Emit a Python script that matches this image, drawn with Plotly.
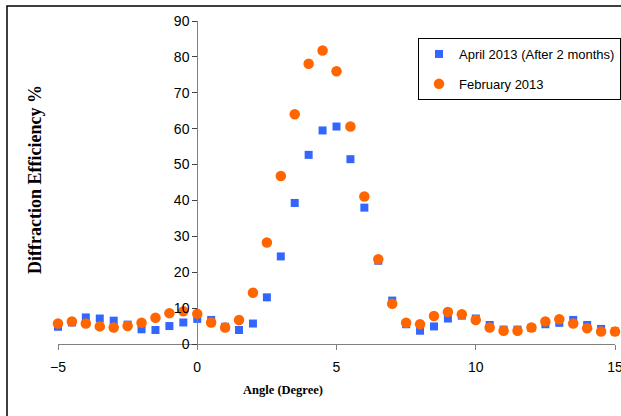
import plotly.graph_objects as go

angle = [-5, -4.5, -4, -3.5, -3, -2.5, -2, -1.5, -1, -0.5, 0, 0.5, 1, 1.5, 2, 2.5, 3, 3.5, 4, 4.5,
         5, 5.5, 6, 6.5, 7, 7.5, 8, 8.5, 9, 9.5, 10, 10.5, 11, 11.5, 12, 12.5, 13, 13.5, 14, 14.5, 15]

april = [4.8, 6.0, 7.4, 7.1, 6.5, 5.4, 4.1, 3.9, 5.0, 6.0, 7.0, 6.7, 4.8, 3.9, 5.7, 13.0, 24.4, 39.3, 52.7, 59.5,
         60.6, 51.5, 38.0, 23.2, 12.1, 5.5, 3.7, 4.9, 7.1, 7.9, 7.1, 5.3, 4.0, 4.0, 4.5, 5.5, 5.9, 6.7, 5.3, 4.2, 3.5]

february = [5.7, 6.3, 5.7, 4.9, 4.6, 5.0, 5.9, 7.3, 8.6, 9.1, 8.4, 6.0, 4.6, 6.7, 14.3, 28.3, 46.8, 64.0, 78.1, 81.8,
            76.0, 60.6, 41.1, 23.6, 11.2, 5.9, 5.5, 7.8, 8.9, 8.3, 6.7, 4.6, 3.7, 3.7, 4.6, 6.3, 6.9, 5.7, 4.4, 3.5, 3.5]

x_ticks = [-5, 0, 5, 10, 15]
y_ticks = [0, 10, 20, 30, 40, 50, 60, 70, 80, 90]

W, H = 621, 416
L, R, T, B = 58, 6, 21, 72
pw, ph = W - L - R, H - T - B

def px(xp):
    return (xp - L) / pw

def py(yp):
    return (H - B - yp) / ph

fig = go.Figure()
fig.add_trace(go.Scatter(
    x=angle, y=april, mode="markers", name="April 2013 (After 2 months)",
    marker=dict(symbol="square", size=8, color="#3366FF"),
    cliponaxis=False, legendgroup="a"))
fig.add_trace(go.Scatter(
    x=angle, y=february, mode="markers", name="February 2013",
    marker=dict(symbol="circle", size=10.5, color="#FF6600"),
    cliponaxis=False, legendgroup="b"))

axis_col = "#808080"
fig.update_layout(
    width=W, height=H,
    margin=dict(l=L, r=R, t=T, b=B, autoexpand=False),
    paper_bgcolor="white", plot_bgcolor="white",
    font=dict(family="Arial, Liberation Sans, sans-serif", size=14, color="black"),
    xaxis=dict(range=[-5, 15], tickvals=x_ticks, showgrid=False, zeroline=False,
               showline=True, linecolor=axis_col, linewidth=1,
               ticks="outside", ticklen=5, tickcolor=axis_col, ticklabelstandoff=5,
               ticklabeloverflow="allow",
               tickfont=dict(size=14), domain=[0, 1], automargin=False),
    yaxis=dict(range=[0, 90], tickvals=y_ticks, showgrid=False, zeroline=False,
               showline=True, linecolor=axis_col, linewidth=1,
               ticks="outside", ticklen=5, tickcolor="#404040",
               ticklabeloverflow="allow",
               tickfont=dict(size=14), anchor="free", position=(0 - (-5)) / 20,
               automargin=False),
    legend=dict(x=px(418), y=py(38), xanchor="left", yanchor="top",
                bordercolor="black", borderwidth=1, bgcolor="white",
                font=dict(size=13), traceorder="grouped", tracegroupgap=10),
    showlegend=True,
)

fig.add_shape(type="rect", xref="paper", yref="paper",
              x0=px(7), x1=px(W + 20), y0=py(H + 20), y1=py(6),
              line=dict(color="black", width=1.5), fillcolor="rgba(0,0,0,0)", layer="below")

fig.add_annotation(text="<b>Angle (Degree)</b>", xref="paper", yref="paper",
                   x=px(283), y=py(390), showarrow=False, xanchor="center", yanchor="middle",
                   font=dict(family="Times New Roman, Liberation Serif, serif", size=12.5, color="black"))
fig.add_annotation(text="<b>Diffraction Efficiency %</b>", xref="paper", yref="paper",
                   x=px(35), y=py(180), showarrow=False, textangle=-90,
                   xanchor="center", yanchor="middle",
                   font=dict(family="Times New Roman, Liberation Serif, serif", size=18, color="black"))

fig.write_html("out.html", config={"displayModeBar": False},
               post_script="document.body.style.margin='0';document.body.style.overflow='hidden';")
